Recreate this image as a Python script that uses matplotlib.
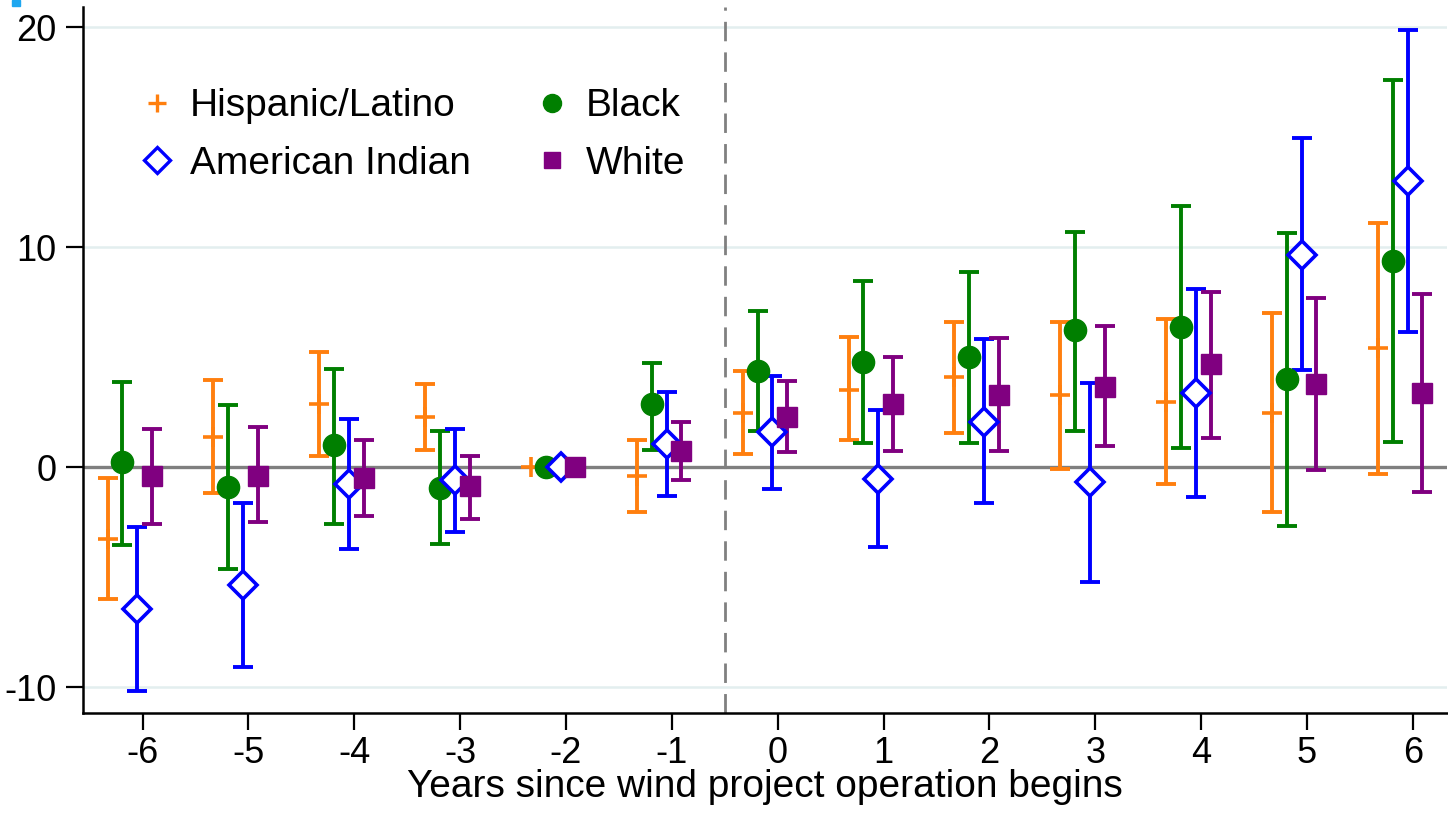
import numpy as np
import matplotlib
matplotlib.use('Agg')
import matplotlib.pyplot as plt
from matplotlib.lines import Line2D
from matplotlib.patches import Rectangle

plt.rcParams['font.family'] = ['Liberation Sans', 'DejaVu Sans']
plt.rcParams['axes.unicode_minus'] = False

# Jahre relativ zum Betriebsbeginn
years = np.arange(-6, 7)

hisp_pt = [-3.25, 1.38, 2.87, 2.29, 0, -0.41, 2.47, 3.54, 4.09, 3.28, 2.98, 2.45, 5.41]
hisp_lo = [-5.98, -1.17, 0.50, 0.80, 0, -2.04, 0.62, 1.23, 1.56, -0.06, -0.77, -2.04, -0.32]
hisp_hi = [-0.47, 3.96, 5.24, 3.78, 0, 1.23, 4.39, 5.91, 6.62, 6.62, 6.73, 7.03, 11.10]

black_pt = [0.24, -0.87, 1.00, -0.93, 0, 2.90, 4.39, 4.80, 5.03, 6.24, 6.39, 4.00, 9.39]
black_lo = [-3.52, -4.62, -2.57, -3.48, 0, 0.80, 1.65, 1.11, 1.11, 1.65, 0.90, -2.67, 1.15]
black_hi = [3.89, 2.82, 4.49, 1.65, 0, 4.75, 7.12, 8.49, 8.90, 10.69, 11.89, 10.65, 17.63]

amind_pt = [-6.44, -5.33, -0.74, -0.59, 0, 1.08, 1.61, -0.55, 2.06, -0.67, 3.39, 9.66, 13.00]
amind_lo = [-10.16, -9.07, -3.71, -2.95, 0, -1.28, -1.00, -3.63, -1.62, -5.22, -1.35, 4.42, 6.16]
amind_hi = [-2.72, -1.62, 2.22, 1.76, 0, 3.43, 4.15, 2.63, 5.82, 3.84, 8.10, 14.97, 19.86]

white_pt = [-0.40, -0.40, -0.47, -0.85, 0, 0.74, 2.29, 2.87, 3.28, 3.66, 4.69, 3.78, 3.39]
white_lo = [-2.57, -2.49, -2.19, -2.34, 0, -0.59, 0.70, 0.73, 0.74, 0.97, 1.35, -0.11, -1.12]
white_hi = [1.76, 1.84, 1.23, 0.50, 0, 2.06, 3.92, 5.03, 5.86, 6.42, 7.99, 7.69, 7.88]

fig = plt.figure(figsize=(14.48, 8.22), dpi=100)
ax = fig.add_axes([0.0575, 0.133, 0.9416, 0.8588])

# Gitterlinien und Referenzlinien
for g in [-10, 10, 20]:
    ax.axhline(g, color='#e3eeef', lw=1.8, zorder=0)
ax.axhline(0, color='#7f7f7f', lw=2.4, zorder=1)
ax.axvline(-0.5, color='#808080', lw=2.0, dashes=(7, 4), zorder=1)

groups = [
    ('Hispanic/Latino', hisp_pt, hisp_lo, hisp_hi, -0.33, '#ff7f0e', '+'),
    ('Black', black_pt, black_lo, black_hi, -0.19, '#007f00', 'o'),
    ('American Indian', amind_pt, amind_lo, amind_hi, -0.05, '#0000ff', 'D'),
    ('White', white_pt, white_lo, white_hi, 0.09, '#800080', 's'),
]

for name, pt, lo, hi, off, col, mk in groups:
    pt = np.array(pt)
    lo = np.array(lo)
    hi = np.array(hi)
    x = years + off
    ci = hi > lo
    ax.errorbar(x[ci], pt[ci], yerr=[pt[ci] - lo[ci], hi[ci] - pt[ci]], fmt='none',
                ecolor=col, elinewidth=2.8, capsize=7, capthick=2.8, zorder=2)
    if mk == '+':
        ax.plot(x, pt, linestyle='none', marker='+', ms=14, mew=2.6, color=col, zorder=3)
    elif mk == 'D':
        ax.plot(x, pt, linestyle='none', marker='D', ms=14, mew=2.6, mfc='white',
                mec=col, zorder=3)
    else:
        ax.plot(x, pt, linestyle='none', marker=mk, ms=16 if mk == 'o' else 15,
                color=col, zorder=3)

ax.set_xlim(-6.56, 6.32)
ax.set_ylim(-11.15, 20.94)
ax.set_xticks(years)
ax.set_xticklabels([str(y) for y in years])
ax.set_yticks([-10, 0, 10, 20])
ax.tick_params(axis='both', labelsize=26, length=12, width=1.6, color='black')
ax.tick_params(axis='x', pad=5)
ax.tick_params(axis='y', pad=7)
ax.set_xlabel('Years since wind project operation begins', fontsize=28, labelpad=-2)

for s in ['top', 'right']:
    ax.spines[s].set_visible(False)
for s in ['left', 'bottom']:
    ax.spines[s].set_linewidth(1.8)

# Legende
handles = [
    Line2D([], [], linestyle='none', marker='+', ms=13, mew=2.4, color='#ff7f0e'),
    Line2D([], [], linestyle='none', marker='D', ms=13, mew=2.4, mfc='white', mec='#0000ff'),
    Line2D([], [], linestyle='none', marker='o', ms=13, color='#007f00'),
    Line2D([], [], linestyle='none', marker='s', ms=12, color='#800080'),
]
labels = ['Hispanic/Latino', 'American Indian', 'Black', 'White']
ax.legend(handles, labels, ncol=2, frameon=False, fontsize=28, loc='upper left',
          bbox_to_anchor=(0.014, 0.934), handlelength=1.0, handletextpad=0.35,
          columnspacing=1.6, labelspacing=0.56, borderpad=0.4)

# kleiner Farbrest oben links
fig.patches.append(Rectangle((12 / 1448, 1 - 6 / 822), 8 / 1448, 6 / 822,
                             transform=fig.transFigure, color='#1ea7f0'))

plt.savefig('out.png', dpi=100)
plt.close()
